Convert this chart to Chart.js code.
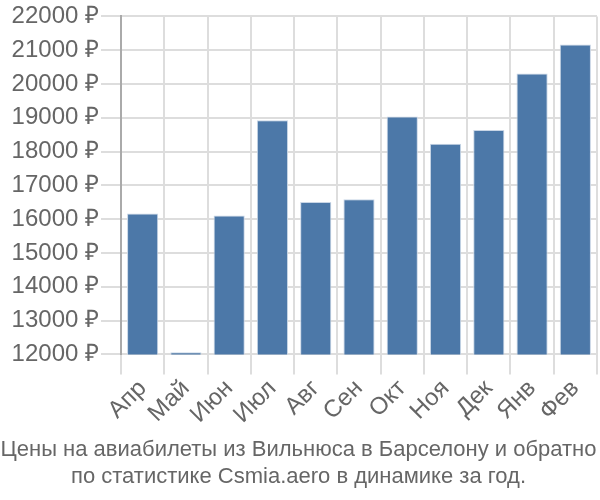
<!DOCTYPE html>
<html>
<head>
<meta charset="utf-8">
<script src="https://cdn.jsdelivr.net/npm/chart.js@4/dist/chart.umd.min.js"></script>
<style>
  html, body { margin: 0; padding: 0; background: #fff; }
  #wrap { width: 600px; height: 500px; }
</style>
</head>
<body>
<div id="wrap"><canvas id="priceChart" width="600" height="500"></canvas></div>
<script>
var months = ['Апр', 'Май', 'Июн', 'Июл', 'Авг', 'Сен', 'Окт', 'Ноя', 'Дек', 'Янв', 'Фев'];
var prices = [16170, 12060, 16110, 18930, 16510, 16590, 19040, 18230, 18640, 20310, 21170];
var titleLines = ['Цены на авиабилеты из Вильнюса в Барселону и обратно', 'по статистике Csmia.aero в динамике за год.'];

var ctx = document.getElementById('priceChart');
new Chart(ctx, {
	type: 'bar',
	data: {
		labels: months,
		datasets: [{
			data: prices,
			backgroundColor: '#4c78a8',
			borderColor: '#c9d6e6',
			borderWidth: 1
		}]
	},
	options: {
		responsive: false,
		animation: false,
		layout: { padding: { left: 0, right: 3, top: 4, bottom: 0 } },
		plugins: {
			legend: { display: false },
			tooltip: { enabled: false },
			title: {
				display: true,
				position: 'bottom',
				text: titleLines,
				color: '#666',
				font: { family: '"Liberation Sans Narrow", "Arial Narrow", sans-serif', size: 22, weight: 'normal' },
				padding: { top: 8, bottom: 10 },
				lineHeight: 1.2
			}
		},
		scales: {
			x: {
				grid: { color: '#ddd', lineWidth: 2, tickLength: 20 },
				border: { color: '#ddd' },
				ticks: {
					color: '#666',
					font: { family: '"Liberation Sans", Arial, sans-serif', size: 24 },
					maxRotation: 45,
					minRotation: 45,
					autoSkip: false,
					padding: 0
				}
			},
			y: {
				min: 12000,
				max: 22000,
				afterFit: function(scale) { scale.width = 121; },
				grid: { color: '#ddd', lineWidth: 2, tickLength: 20 },
				border: { color: '#aaa', width: 2 },
				ticks: {
					stepSize: 1000,
					color: '#666',
					padding: 2,
					font: { family: '"Liberation Sans", Arial, sans-serif', size: 24 },
					callback: function(v) { return v + ' ₽'; }
				}
			}
		}
	}
});
</script>
</body>
</html>
